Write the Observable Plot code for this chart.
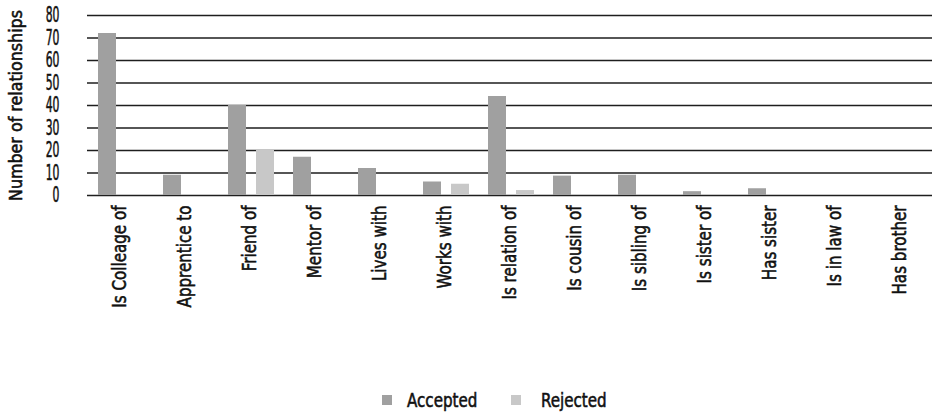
<!DOCTYPE html>
<html>
<head>
<meta charset="utf-8">
<script src="https://cdn.jsdelivr.net/npm/d3@7"></script>
<script src="https://cdn.jsdelivr.net/npm/@observablehq/plot@0.6"></script>
<style>
  html, body { margin: 0; padding: 0; background: #fff; }
  body { width: 934px; height: 415px; overflow: hidden; position: relative; font-family: "DejaVu Sans Condensed", "DejaVu Sans", sans-serif; }
  #chart svg text { stroke: #111; stroke-width: 0.55px; }
  #legend { position: absolute; left: 0; top: 375px; width: 934px; height: 40px; font-size: 20px; color: #111; }
  .sw { position: absolute; width: 10px; height: 10px; top: 20px; }
  .lt { position: absolute; top: 14px; line-height: 22px; display: inline-block; white-space: nowrap; transform: scaleX(0.84); transform-origin: left center; -webkit-text-stroke: 0.55px #111; }
</style>
</head>
<body>
<div id="chart"></div>
<div id="legend"></div>
<script>
const categories = ["Is Colleage of", "Apprentice to", "Friend of", "Mentor of", "Lives with", "Works with", "Is relation of", "Is cousin of", "Is sibling of", "Is sister of", "Has sister", "Is in law of", "Has brother"];
const accepted = [72, 9, 40, 17, 12, 6, 44, 8.6, 9, 1.7, 3, 0, 0];
const rejected = [0, 0, 20, 0, 0, 5, 2.2, 0, 0, 0, 0, 0, 0];
const seriesNames = ["Accepted", "Rejected"];
const seriesColors = ["#a0a0a0", "#c8c8c8"];
const yTicks = [0, 10, 20, 30, 40, 50, 60, 70, 80];

const rows = [];
categories.forEach((c, i) => {
  rows.push({category: c, series: seriesNames[0], value: accepted[i]});
  rows.push({category: c, series: seriesNames[1], value: rejected[i]});
});

const chart = Plot.plot({
  width: 934,
  height: 375,
  marginTop: 15,
  marginBottom: 180,
  marginLeft: 84,
  marginRight: 0,
  style: {fontFamily: '"DejaVu Sans Condensed", "DejaVu Sans", sans-serif', fontSize: "20px", color: "#111", background: "#fff"},
  fx: {domain: categories, padding: 0, label: null, axis: "bottom", tickRotate: -90, tickSize: 0, tickPadding: 10},
  x: {domain: seriesNames, axis: null, paddingInner: 0.345, paddingOuter: 0.3, align: 0.6},
  y: {domain: [0, 80], ticks: yTicks, tickSize: 0, tickPadding: 28, label: "Number of relationships", labelAnchor: "center", labelOffset: 79, labelArrow: "none"},
  color: {domain: seriesNames, range: seriesColors},
  marks: [
    Plot.gridY(yTicks, {stroke: "#1e1e1e", strokeOpacity: 1, strokeWidth: 1.3}),
    Plot.barY(rows, {fx: "category", x: "series", y: "value", fill: "series"})
  ]
});
document.getElementById("chart").appendChild(chart);

// condense text to mimic the narrow typeface of the reference
chart.querySelectorAll("text").forEach(el => {
  const g = el.closest("g[aria-label]");
  const role = g ? g.getAttribute("aria-label") : "";
  if (role.includes("y-axis label")) el.style.fontSize = "18.5px";
  if (role.includes("y-axis tick")) el.style.fontSize = "21.5px";
  const L = el.getComputedTextLength();
  let target = null;
  if (role.includes("y-axis label")) target = Math.min(L, 191);
  else if (role.includes("y-axis tick")) target = L * 0.56;
  else if (role.includes("fx-axis tick")) target = L * 0.84;
  if (target) {
    el.setAttribute("textLength", target);
    el.setAttribute("lengthAdjust", "spacingAndGlyphs");
  }
});

const legend = document.getElementById("legend");
const swX = [382, 511];
const txX = [407, 541];
seriesNames.forEach((s, i) => {
  const sw = document.createElement("div");
  sw.className = "sw";
  sw.style.left = swX[i] + "px";
  sw.style.background = seriesColors[i];
  const t = document.createElement("span");
  t.className = "lt";
  t.style.left = txX[i] + "px";
  t.textContent = s;
  legend.appendChild(sw);
  legend.appendChild(t);
});
</script>
</body>
</html>
